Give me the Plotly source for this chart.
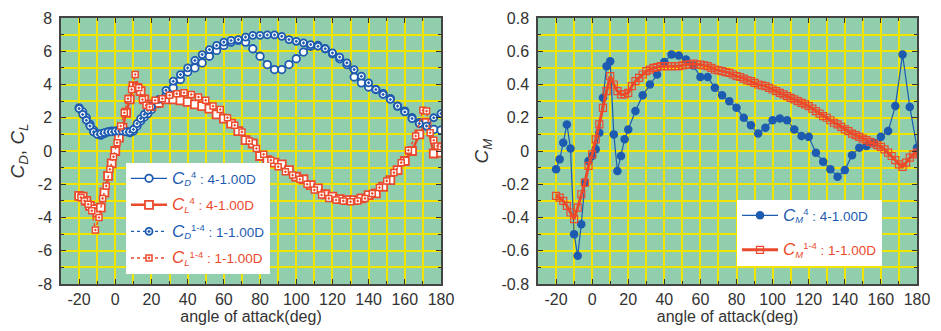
import plotly.graph_objects as go

# ---------------- data ----------------
# left chart: drag / lift coefficients
x_cd4 = [-20,-18,-16,-14,-12,-10,-8,-6,-4,-2,0,2,4,6,8,10,12,14,16,18,20,
         24,28,32,36,40,44,48,52,56,60,64,68,72,76,80,84,88,92,96,100,104,108,
         112,116,120,124,128,132,136,140,144,148,152,156,160,164,168,172,176,180]
cd4 = [2.6,2.35,2.0,1.6,1.25,1.05,0.95,1.05,1.15,1.2,1.2,1.25,1.25,1.2,1.1,1.2,1.5,1.8,2.05,2.25,2.5,
       2.85,3.3,3.8,4.3,4.75,5.0,5.3,5.7,6.05,6.35,6.55,6.65,6.55,6.15,5.7,5.2,4.9,4.9,5.2,5.55,5.95,6.3,
       6.35,6.15,5.85,5.55,5.2,4.45,4.1,3.85,3.7,3.45,3.15,2.7,2.4,2.0,1.7,1.5,1.3,1.25]

x_cd14 = x_cd4
cd14 = [2.55,2.2,1.85,1.5,1.15,1.0,1.05,1.1,1.15,1.15,1.2,1.2,1.2,1.15,1.15,1.3,1.65,1.95,2.2,2.45,2.65,
        3.1,3.65,4.2,4.6,5.0,5.45,5.8,6.1,6.35,6.55,6.65,6.7,6.85,6.95,6.95,6.98,6.98,6.9,6.7,6.6,6.5,6.4,
        6.3,6.15,5.9,5.65,5.3,4.9,4.5,4.1,3.7,3.4,3.1,2.7,2.35,1.95,1.65,1.5,2.0,2.25]

x_cl4 = x_cd4
cl4 = [-2.7,-2.75,-3.0,-3.3,-3.5,-3.7,-3.4,-2.5,-1.5,-0.75,0.0,0.8,1.4,2.3,3.1,3.9,3.8,3.6,3.1,2.8,2.7,
       2.9,3.1,3.1,3.05,2.95,2.8,2.7,2.55,2.2,1.95,1.65,1.2,0.65,0.45,-0.3,-0.55,-0.7,-0.8,-1.15,-1.55,-1.7,-2.05,
       -2.25,-2.6,-2.75,-2.9,-2.95,-2.95,-2.85,-2.65,-2.55,-2.15,-1.75,-1.15,-0.6,0.0,1.0,1.7,-0.15,-0.1]

x_cl14 = [-19,-17,-15,-13,-11,-9,-7,-5,-3,-1,1,3,5,7,9,11,13,15,17,19,
          22,26,30,34,38,42,46,50,54,58,62,66,70,74,78,82,86,90,94,98,102,106,110,114,118,
          122,126,130,134,138,142,146,150,154,158,162,166,170,172,174,176,178,180]
cl14 = [-2.8,-3.0,-3.2,-3.6,-4.75,-4.0,-2.85,-2.1,-1.1,-0.35,0.5,1.5,2.3,3.15,3.7,4.6,3.8,3.1,2.75,2.65,
        3.05,3.15,3.35,3.45,3.5,3.4,3.25,3.05,2.7,2.5,2.0,1.55,1.15,0.6,0.15,-0.2,-0.55,-0.95,-1.25,-1.45,-1.7,-2.0,-2.35,-2.65,-2.85,
        -2.95,-3.0,-3.05,-3.0,-2.85,-2.55,-2.2,-1.8,-1.3,-0.7,0.05,0.9,2.45,2.4,1.1,0.65,0.3,0.25]

# right chart: moment coefficient
x_cm4 = x_cd4
cm4 = [-0.11,-0.05,0.05,0.16,0.015,-0.50,-0.63,-0.44,-0.19,-0.06,-0.03,0.01,0.11,0.32,0.51,0.54,0.10,-0.12,-0.03,0.07,0.13,
       0.24,0.335,0.40,0.46,0.535,0.58,0.575,0.55,0.515,0.445,0.445,0.38,0.335,0.30,0.26,0.20,0.155,0.105,0.14,0.185,0.195,0.185,
       0.13,0.09,0.085,-0.01,-0.065,-0.11,-0.155,-0.115,-0.025,0.02,0.03,0.05,0.085,0.12,0.27,0.58,0.265,0.02]

x_cm14 = list(range(-20, 181, 2))
cm14 = [-0.27,-0.28,-0.30,-0.33,-0.37,-0.41,-0.34,-0.26,-0.19,-0.09,-0.02,0.07,0.16,0.26,0.36,0.45,0.40,0.36,0.34,0.34,0.35,
        0.39,0.42,0.44,0.46,0.48,0.49,0.50,0.505,0.51,0.51,0.51,0.51,0.51,0.51,0.515,0.52,0.52,0.525,0.52,
        0.52,0.515,0.51,0.50,0.49,0.485,0.48,0.475,0.47,0.46,0.45,0.445,0.435,0.425,0.42,0.41,0.40,0.395,0.39,0.38,
        0.37,0.36,0.35,0.34,0.33,0.32,0.31,0.30,0.29,0.28,0.27,0.255,0.24,0.225,0.21,0.20,0.185,0.17,0.16,0.145,
        0.13,0.12,0.105,0.095,0.085,0.075,0.065,0.055,0.045,0.035,0.025,0.01,-0.01,-0.03,-0.055,-0.08,-0.095,-0.07,-0.04,-0.02,-0.01]

x_ticks = [-20, 0, 20, 40, 60, 80, 100, 120, 140, 160, 180]
x_tick_labels = ["-20", "0", "20", "40", "60", "80", "100", "120", "140", "160", "180"]
y1_ticks = [-8, -6, -4, -2, 0, 2, 4, 6, 8]
y1_tick_labels = ["-8", "-6", "-4", "-2", "0", "2", "4", "6", "8"]
y2_ticks = [-0.8, -0.6, -0.4, -0.2, 0, 0.2, 0.4, 0.6, 0.8]
y2_tick_labels = ["-0.8", "-0.6", "-0.4", "-0.2", "0", "0.2", "0.4", "0.6", "0.8"]

# ---------------- style ----------------
BLUE = "#1d5bb0"
RED = "#ec4a2c"
BG = "#90ceae"
GRID = "#f0e400"
FONT = "Liberation Sans, Arial, sans-serif"

fig = go.Figure()

def lname(color, sub, sup, txt):
    return ("<span style='color:%s'><i><span style='font-size:17px'>C</span></i>"
            "<sub><i>%s</i></sub><sup>%s</sup> : %s</span>" % (color, sub, sup, txt))

fig.add_trace(go.Scatter(x=x_cd4, y=cd4, mode="lines+markers", xaxis="x", yaxis="y",
    name=lname(BLUE, "D", "4", "4-1.00D"), legendgroup="a",
    line=dict(color=BLUE, width=1.2),
    marker=dict(symbol="circle", size=7.5, color="white", line=dict(color=BLUE, width=1.8)),
    legend="legend"))
fig.add_trace(go.Scatter(x=x_cl4, y=cl4, mode="lines+markers", xaxis="x", yaxis="y",
    name=lname(RED, "L", "4", "4-1.00D"), legendgroup="b",
    line=dict(color=RED, width=2.5),
    marker=dict(symbol="square", size=8, color="white", line=dict(color=RED, width=1.8)),
    legend="legend"))
fig.add_trace(go.Scatter(x=x_cd14, y=cd14, mode="lines+markers", xaxis="x", yaxis="y",
    name=lname(BLUE, "D", "1-4", "1-1.00D"), legendgroup="c",
    line=dict(color=BLUE, width=1.2, dash="dot"),
    marker=dict(symbol="circle-dot", size=7, color="white", line=dict(color=BLUE, width=1.8)),
    legend="legend"))
fig.add_trace(go.Scatter(x=x_cl14, y=cl14, mode="lines+markers", xaxis="x", yaxis="y",
    name=lname(RED, "L", "1-4", "1-1.00D"), legendgroup="d",
    line=dict(color=RED, width=1.5, dash="dot"),
    marker=dict(symbol="square-dot", size=6, color="white", line=dict(color=RED, width=1.5)),
    legend="legend"))

fig.add_trace(go.Scatter(x=x_cm4, y=cm4, mode="lines+markers", xaxis="x2", yaxis="y2",
    name=lname(BLUE, "M", "4", "4-1.00D"), legendgroup="e",
    line=dict(color=BLUE, width=1.2),
    marker=dict(symbol="circle", size=8.5, color=BLUE, line=dict(color=BLUE, width=0)),
    legend="legend2"))
fig.add_trace(go.Scatter(x=x_cm14, y=cm14, mode="lines+markers", xaxis="x2", yaxis="y2",
    name=lname(RED, "M", "1-4", "1-1.00D"), legendgroup="f",
    line=dict(color=RED, width=3),
    marker=dict(symbol="square-open", size=7, color=RED, line=dict(color=RED, width=1.2)),
    legend="legend2"))

W, H = 941, 331

def xax(domain, ticks, labels, anchor):
    return dict(domain=domain, range=[-30, 180], tickmode="array", tickvals=ticks, ticktext=labels,
                anchor=anchor, automargin=False,
                showgrid=True, gridcolor=GRID, gridwidth=1.5, zeroline=False,
                ticks="inside", ticklen=5, tickcolor="#333", mirror="allticks",
                showline=True, linecolor="#444", linewidth=1.5,
                minor=dict(dtick=10, tick0=0, showgrid=True, gridcolor=GRID, gridwidth=1.5,
                           ticks="inside", ticklen=3, tickcolor="#333"),
                tickfont=dict(size=16, color="#333"),
                title=dict(text="angle of attack(deg)", font=dict(size=16, color="#333"), standoff=2))

def yax(domain, rng, ticks, labels, minor_dt, title, anchor):
    return dict(domain=domain, range=rng, tickmode="array", tickvals=ticks, ticktext=labels,
                anchor=anchor, automargin=False,
                showgrid=True, gridcolor=GRID, gridwidth=1.5, zeroline=False,
                ticks="inside", ticklen=5, tickcolor="#333", mirror="allticks",
                showline=True, linecolor="#444", linewidth=1.5,
                minor=dict(dtick=minor_dt, tick0=0, showgrid=True, gridcolor=GRID, gridwidth=1.5,
                           ticks="inside", ticklen=3, tickcolor="#333"),
                tickfont=dict(size=16, color="#333"), ticklabelstandoff=4,
                title=dict(text=title, font=dict(size=19, color="#333"), standoff=8))

ydom = [(331 - 284) / H, (331 - 18) / H]

fig.update_layout(
    width=W, height=H, autosize=False,
    margin=dict(l=0, r=0, t=0, b=0),
    paper_bgcolor="white", plot_bgcolor=BG,
    font=dict(family=FONT, color="#333"),
    xaxis=xax([61 / W, 441 / W], x_ticks, x_tick_labels, "y"),
    yaxis=yax(ydom, [-8, 8], y1_ticks, y1_tick_labels, 1,
              "<i>C<sub>D</sub></i>, <i>C<sub>L</sub></i>", "x"),
    xaxis2=xax([538 / W, 917 / W], x_ticks, x_tick_labels, "y2"),
    yaxis2=yax(ydom, [-0.8, 0.8], y2_ticks, y2_tick_labels, 0.1,
               "<i>C<sub>M</sub></i>", "x2"),
    legend=dict(x=126 / W, y=1 - 163 / H, xanchor="left", yanchor="top",
                bgcolor="white", borderwidth=0, font=dict(size=13.5, family=FONT),
                itemwidth=36, tracegroupgap=6),
    legend2=dict(x=737 / W, y=1 - 200 / H, xanchor="left", yanchor="top",
                 bgcolor="white", borderwidth=0, font=dict(size=13.5, family=FONT),
                 itemwidth=36, tracegroupgap=14),
    showlegend=True,
)

fig.write_html("out.html", config={"displayModeBar": False},
               post_script="document.body.style.margin='0';")
